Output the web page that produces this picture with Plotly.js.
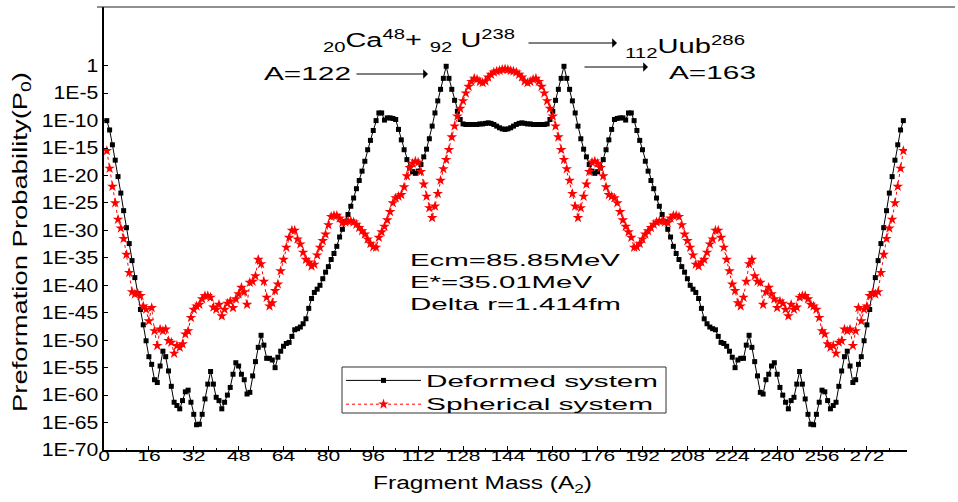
<!DOCTYPE html>
<html><head><meta charset="utf-8">
<script src="https://cdn.plot.ly/plotly-3.0.1.min.js"></script>
<style>html,body{margin:0;padding:0;background:#fff;}#chart{width:958px;height:502px;}</style>
</head><body><div id="chart"></div>
<script>
// Fragment mass numbers A2 = 1 .. 285
const fragmentMass = [];
for (let a = 1; a <= 285; a++) fragmentMass.push(a);

// log10 of preformation probability, deformed system
const deformedLog10 = [
-10.0,-11.7,-14.4,-17.2,-20.2,-23.2,-26.4,-29.5,-32.4,-35.5,
-38.6,-41.5,-44.4,-47.2,-50.1,-53.0,-54.4,-57.2,-57.7,-54.7,
-52.0,-53.0,-55.6,-58.4,-61.3,-61.9,-62.5,-61.0,-59.4,-59.1,
-61.3,-63.5,-65.4,-65.3,-63.5,-60.7,-58.0,-55.7,-58.0,-60.4,
-61.0,-62.5,-61.3,-60.0,-58.6,-56.2,-54.1,-54.7,-56.2,-57.2,
-59.8,-59.5,-56.5,-53.9,-51.3,-49.1,-50.9,-53.3,-53.3,-53.6,
-55.0,-53.1,-52.0,-51.1,-50.6,-50.4,-49.3,-48.1,-47.9,-47.6,
-47.0,-46.1,-44.2,-42.4,-41.3,-40.7,-40.0,-38.8,-37.6,-36.6,
-35.3,-34.2,-32.9,-31.2,-29.8,-28.4,-27.1,-25.6,-24.1,-22.4,
-20.9,-19.2,-17.4,-15.3,-13.6,-11.8,-10.0,-8.6,-8.6,-9.9,
-9.5,-9.5,-9.6,-9.8,-11.6,-13.5,-15.3,-17.1,-18.6,-19.3,
-19.6,-19.2,-18.0,-16.6,-15.2,-13.3,-11.0,-8.6,-6.4,-4.3,
-2.3,-0.1,-2.3,-4.3,-6.3,-8.3,-9.8,-10.6,-10.7,-10.7,
-10.7,-10.7,-10.7,-10.6,-10.6,-10.5,-10.4,-10.5,-10.7,-11.0,
-11.3,-11.5,-11.6,
-11.5,-11.3,-11.0,-10.7,-10.5,-10.4,-10.5,-10.6,-10.6,-10.7,
-10.7,-10.7,-10.7,-10.7,-10.6,-9.8,-8.3,-6.3,-4.3,-2.3,
-0.1,-2.3,-4.3,-6.4,-8.6,-11.0,-13.3,-15.2,-16.6,-18.0,
-19.2,-19.6,-19.3,-18.6,-17.1,-15.3,-13.5,-11.6,-9.8,-9.6,
-9.5,-9.5,-9.9,-8.6,-8.6,-10.0,-11.8,-13.6,-15.3,-17.4,
-19.2,-20.9,-22.4,-24.1,-25.6,-27.1,-28.4,-29.8,-31.2,-32.9,
-34.2,-35.3,-36.6,-37.6,-38.8,-40.0,-40.7,-41.3,-42.4,-44.2,
-46.1,-47.0,-47.6,-47.9,-48.1,-49.3,-50.4,-50.6,-51.1,-52.0,
-53.1,-55.0,-53.6,-53.3,-53.3,-50.9,-49.1,-51.3,-53.9,-56.5,
-59.5,-59.8,-57.2,-56.2,-54.7,-54.1,-56.2,-58.6,-60.0,-61.3,
-62.5,-61.0,-60.4,-58.0,-55.7,-58.0,-60.7,-63.5,-65.3,-65.4,
-63.5,-61.3,-59.1,-59.4,-61.0,-62.5,-61.9,-61.3,-58.4,-55.6,
-53.0,-52.0,-54.7,-57.7,-57.2,-54.4,-53.0,-50.1,-47.2,-44.4,
-41.5,-38.6,-35.5,-32.4,-29.5,-26.4,-23.2,-20.2,-17.2,-14.4,
-11.7,-10.0
];

// log10 of preformation probability, spherical system
const sphericalLog10 = [
-15.5,-18.7,-22.0,-25.0,-28.0,-29.6,-31.5,-34.4,-37.7,-41.2,
-41.6,-41.4,-41.9,-43.8,-44.4,-46.5,-44.1,-48.3,-51.0,-48.0,
-48.3,-48.0,-50.1,-50.4,-52.4,-51.0,-51.3,-50.7,-48.9,-48.3,
-45.9,-44.4,-43.8,-43.5,-42.5,-41.9,-41.9,-42.2,-44.0,-44.4,
-43.5,-45.6,-44.4,-43.3,-42.9,-44.1,-42.5,-41.6,-40.4,-41.2,
-43.5,-39.5,-39.3,-38.3,-35.3,-36.1,-39.3,-42.2,-43.8,-43.2,
-41.0,-39.8,-37.4,-35.3,-33.1,-31.3,-30.0,-30.0,-31.6,-32.5,
-34.0,-35.3,-35.8,-36.5,-36.2,-34.5,-33.1,-31.9,-30.7,-29.0,
-27.5,-27.3,-27.3,-27.8,-28.6,-28.5,-28.3,-28.3,-28.5,-28.9,
-29.5,-30.1,-30.7,-31.6,-32.4,-33.0,-33.1,-31.3,-30.3,-29.3,
-28.1,-26.6,-25.0,-24.1,-23.8,-23.5,-22.1,-20.1,-18.6,-17.8,
-17.4,-17.6,-19.3,-21.6,-23.8,-25.9,-27.7,-25.6,-23.3,-20.9,
-18.8,-17.1,-15.3,-13.0,-11.0,-9.2,-7.8,-6.4,-5.0,-3.8,
-2.9,-2.3,-2.5,-2.9,-3.1,-2.8,-2.1,-1.6,-1.2,-1.0,
-0.9,-0.7,-0.6,
-0.7,-0.9,-1.0,-1.2,-1.6,-2.1,-2.8,-3.1,-2.9,-2.5,
-2.3,-2.9,-3.8,-5.0,-6.4,-7.8,-9.2,-11.0,-13.0,-15.3,
-17.1,-18.8,-20.9,-23.3,-25.6,-27.7,-25.9,-23.8,-21.6,-19.3,
-17.6,-17.4,-17.8,-18.6,-20.1,-22.1,-23.5,-23.8,-24.1,-25.0,
-26.6,-28.1,-29.3,-30.3,-31.3,-33.1,-33.0,-32.4,-31.6,-30.7,
-30.1,-29.5,-28.9,-28.5,-28.3,-28.3,-28.5,-28.6,-27.8,-27.3,
-27.3,-27.5,-29.0,-30.7,-31.9,-33.1,-34.5,-36.2,-36.5,-35.8,
-35.3,-34.0,-32.5,-31.6,-30.0,-30.0,-31.3,-33.1,-35.3,-37.4,
-39.8,-41.0,-43.2,-43.8,-42.2,-39.3,-36.1,-35.3,-38.3,-39.3,
-39.5,-43.5,-41.2,-40.4,-41.6,-42.5,-44.1,-42.9,-43.3,-44.4,
-45.6,-43.5,-44.4,-44.0,-42.2,-41.9,-41.9,-42.5,-43.5,-43.8,
-44.4,-45.9,-48.3,-48.9,-50.7,-51.3,-51.0,-52.4,-50.4,-50.1,
-48.0,-48.3,-48.0,-51.0,-48.3,-44.1,-46.5,-44.4,-43.8,-41.9,
-41.4,-41.6,-41.2,-37.7,-34.4,-31.5,-29.6,-28.0,-25.0,-22.0,
-18.7,-15.5
];

const yTickExponents = [0,-5,-10,-15,-20,-25,-30,-35,-40,-45,-50,-55,-60,-65,-70];
const yTickLabels = ["1","1E-5","1E-10","1E-15","1E-20","1E-25","1E-30","1E-35","1E-40","1E-45","1E-50","1E-55","1E-60","1E-65","1E-70"];
const xTickValues = [0,16,32,48,64,80,96,112,128,144,160,176,192,208,224,240,256,272];
const seriesNames = ["Deformed system","Spherical system"];

const FONT = "Liberation Sans, Arial, Helvetica, sans-serif";
const toProb = v => Math.pow(10, v);

// pixel helpers (plot area: x 104..907, y 7..450)
const PL = 104, PR = 907, PT = 7, PB = 450;
const px = p => (p - PL) / (PR - PL);
const py = p => (PB - p) / (PB - PT);

const traces = [
  {x: fragmentMass, y: deformedLog10.map(toProb), type: 'scatter', mode: 'lines+markers',
   name: seriesNames[0], line: {color: '#000000', width: 1},
   marker: {symbol: 'square', size: 5, color: '#000000'}},
  {x: fragmentMass, y: sphericalLog10.map(toProb), type: 'scatter', mode: 'lines+markers',
   name: seriesNames[1], line: {color: '#ff0000', width: 1, dash: 'dot'},
   marker: {symbol: 'star', size: 8, color: '#ff0000'}}
];

function ann(text, x, y, size, extra) {
  return Object.assign({text: text, xref: 'paper', yref: 'paper', x: px(x), y: py(y),
    xanchor: 'left', yanchor: 'middle', align: 'left', showarrow: false,
    font: {family: FONT, size: size, color: '#000'}}, extra || {});
}
function arrow(x0, x1, y) {
  return {text: '', xref: 'paper', yref: 'paper', x: px(x1), y: py(y), ax: x0 - x1, ay: 0,
    showarrow: true, arrowhead: 1, arrowsize: 1.6, arrowwidth: 1, arrowcolor: '#000', standoff: 0, startstandoff: 0};
}

const annotations = [
  ann('<sub>20</sub>Ca<sup>48</sup>+ <sub>92</sub> U<sup>238</sup>', 321, 40, 20),
  ann('<sub>112</sub>Uub<sup>286</sup>', 623, 46, 20),
  ann('A=122', 262, 73.5, 18),
  ann('A=163', 667, 72.5, 18),
  ann('Ecm=85.85MeV', 408, 260, 17),
  ann('E*=35.01MeV', 408, 282.5, 17),
  ann('Delta r=1.414fm', 408, 304.5, 17),
  ann('Fragment Mass (A<sub>2</sub>)', 482, 484, 18, {xanchor: 'center', align: 'center'}),
  ann('Preformation Probability(P<sub>0</sub>)', 21, 242, 20, {xanchor: 'center', align: 'center', textangle: -90}),
  arrow(355, 428, 74),
  arrow(527, 617, 43),
  arrow(583, 648, 67)
];
// target rendered widths of the annotation texts (px), same order
const annWidths = [192, 120, 87, 87, 210, 182, 211, 219, 340];
const legendWidths = [232, 227];

const layout = {
  width: 958, height: 502,
  margin: {l: PL, r: 958 - PR, t: PT, b: 502 - PB, pad: 0},
  paper_bgcolor: '#ffffff', plot_bgcolor: '#ffffff',
  font: {family: FONT, color: '#000'},
  showlegend: true,
  legend: {x: px(341), y: py(363.5), xanchor: 'left', yanchor: 'top', bgcolor: 'rgba(0,0,0,0)',
    borderwidth: 0, itemwidth: 75, font: {family: FONT, size: 16, color: '#000'}, tracegroupgap: 0},
  xaxis: {range: [0, 286.3], tickmode: 'array', tickvals: xTickValues, ticks: 'inside', ticklen: 4,
    tickwidth: 1, tickcolor: '#000', showgrid: false, zeroline: false, showline: true,
    linecolor: '#000', linewidth: 2, tickfont: {family: FONT, size: 15, color: '#000'},
    ticklabelstandoff: -9,
    minor: {dtick: 8, tick0: 0, ticks: 'inside', ticklen: 2, tickcolor: '#000', showgrid: false}},
  yaxis: {type: 'log', range: [-70, 10.7], tickmode: 'array', tickvals: yTickExponents.map(toProb),
    ticktext: yTickLabels, ticks: 'inside', ticklen: 4, tickwidth: 1, tickcolor: '#000',
    showgrid: false, zeroline: false, showline: true, linecolor: '#000', linewidth: 2,
    tickfont: {family: FONT, size: 18, color: '#000'}},
  annotations: annotations,
  shapes: [
    {type: 'line', xref: 'paper', yref: 'paper', x0: px(97), x1: px(955), y0: 1, y1: 1,
     line: {color: '#222', width: 1.2}},
    {type: 'rect', xref: 'paper', yref: 'paper', x0: px(342), x1: px(666), y0: py(367), y1: py(413),
     line: {color: '#333', width: 1}, fillcolor: 'rgba(0,0,0,0)'}
  ]
};

const gd = document.getElementById('chart');

function fit(el, width) {
  if (!el) return;
  el.removeAttribute('textLength');
  const w = el.getComputedTextLength();
  if (w > 0) { el.setAttribute('textLength', width.toFixed(1)); el.setAttribute('lengthAdjust', 'spacingAndGlyphs'); }
}
function scale(el, f) {
  if (!el) return;
  el.removeAttribute('textLength');
  const w = el.getComputedTextLength();
  if (w > 0) { el.setAttribute('textLength', (w * f).toFixed(1)); el.setAttribute('lengthAdjust', 'spacingAndGlyphs'); }
}
function stretchAll() {
  gd.querySelectorAll('g.annotation').forEach(function (g) {
    const i = +g.getAttribute('data-index');
    if (annWidths[i]) fit(g.querySelector('text.annotation-text'), annWidths[i]);
  });
  gd.querySelectorAll('g.xtick text').forEach(t => scale(t, 1.4));
  gd.querySelectorAll('g.ytick text').forEach(t => scale(t, 1.18));
  gd.querySelectorAll('text.legendtext').forEach((t, i) => fit(t, legendWidths[i]));
  gd.querySelectorAll('g.legend [clip-path]').forEach(g => g.removeAttribute('clip-path'));
}

Plotly.newPlot(gd, traces, layout, {displayModeBar: false, staticPlot: true}).then(function () {
  stretchAll();
  gd.on('plotly_afterplot', stretchAll);
  setTimeout(stretchAll, 50);
});
</script>
</body></html>
